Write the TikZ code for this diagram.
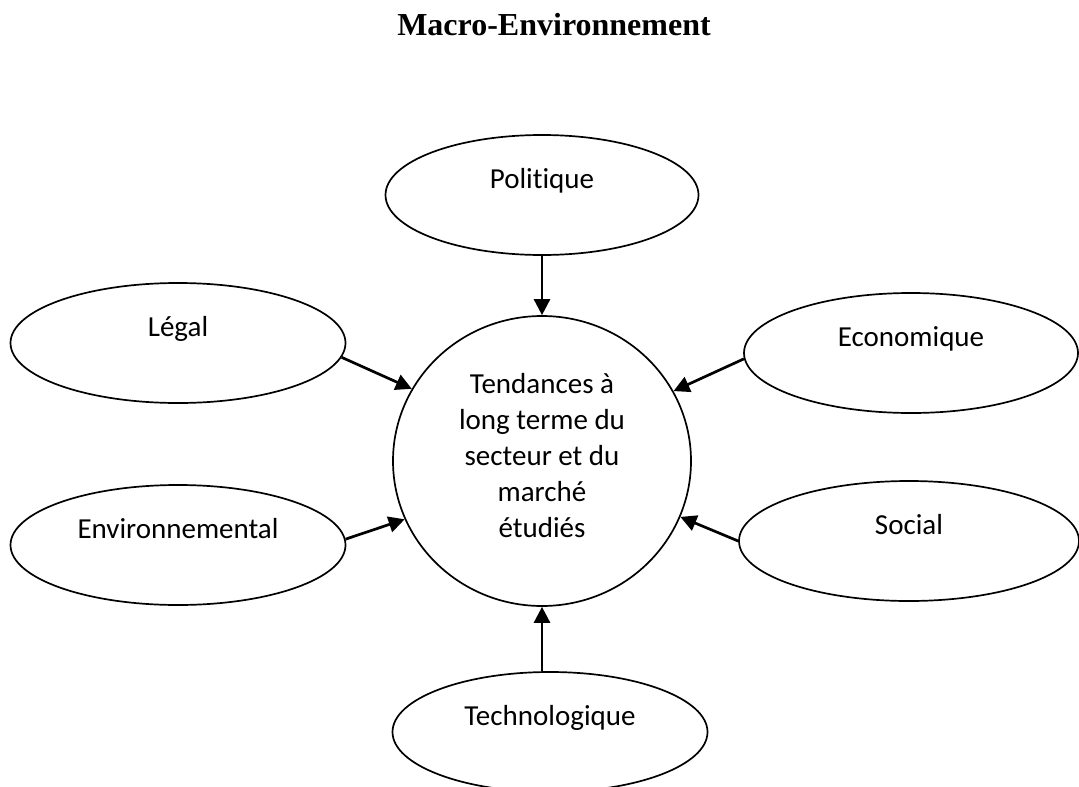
\documentclass[tikz,border=0pt]{standalone}
\usepackage{fontspec}
\setmainfont{Carlito}[Ligatures=CommonOff]
\newfontfamily\titlefont{Liberation Serif}
\usepackage{tikz}
\usetikzlibrary{calc,positioning,arrows.meta,shapes.geometric}
\tikzset{
  line/.style={-{Triangle[length=16pt,width=16pt]}, line width=2.7pt},
  oval/.style={draw, ellipse, line width=1.7pt, inner sep=0pt, minimum height=120pt,
    text height=20pt, text depth=34pt, font=\fontsize{29pt}{36pt}\selectfont},
  hub/.style={draw, ellipse, line width=1.7pt, inner sep=0pt, minimum width=298pt,
    minimum height=290pt, align=center, text depth=12pt, font=\fontsize{29pt}{36pt}\selectfont}
}

\begin{document}
\begin{tikzpicture}[x=1pt, y=-1pt]
  \useasboundingbox (0,0) rectangle (1079,787);
  \node[anchor=base, font=\titlefont\bfseries\fontsize{32pt}{38pt}\selectfont] (title) at (554,35) {Macro-Environnement};
  \node[hub] (trend) at (542,461) {Tendances à\\long terme du\\secteur et du\\marché\\étudiés};
  % the six factors
  \node[oval, minimum width=313pt] (pol)   at (542,195) {Politique};
  \node[oval, minimum width=335pt] (legal) at (178,343) {Légal};
  \node[oval, minimum width=334pt] (eco)   at (911,353) {Economique};
  \node[oval, minimum width=335pt] (env)   at (178,545) {Environnemental};
  \node[oval, minimum width=340pt] (soc)   at (909,541) {Social};
  \node[oval, minimum width=315pt] (tech)  at (550,732) {Technologique};
  % arrows toward the centre
  \draw[line] (pol.south) -- (trend.north);
  \draw[line] (legal.-5) -- (trend.151);
  \draw[line] (eco.182) -- (trend.28);
  \draw[line] (env.2) -- (trend.203);
  \draw[line] (soc.180) -- (trend.-22);
  \draw[line] (trend.south |- tech.north) -- (trend.south);
\end{tikzpicture}
\end{document}
